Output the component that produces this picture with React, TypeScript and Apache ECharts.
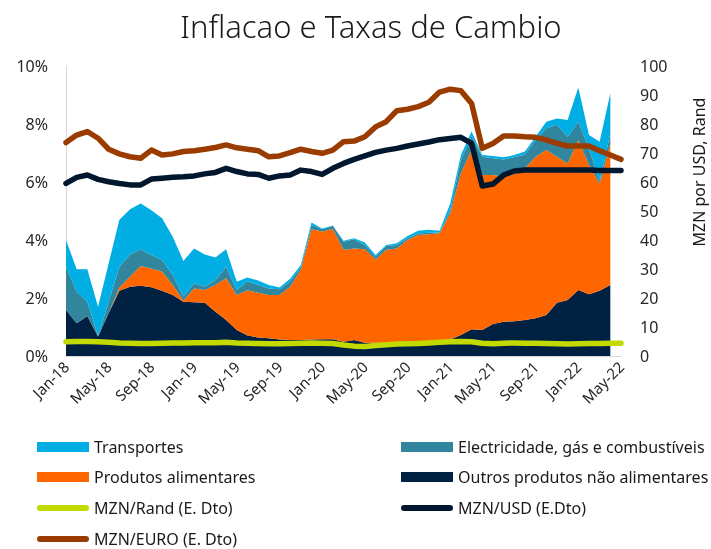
import React, { useEffect, useRef } from "react";
import * as echarts from "echarts";

const months = [
  "Jan-18","Feb-18","Mar-18","Apr-18","May-18","Jun-18","Jul-18","Aug-18","Sep-18","Oct-18","Nov-18","Dec-18",
  "Jan-19","Feb-19","Mar-19","Apr-19","May-19","Jun-19","Jul-19","Aug-19","Sep-19","Oct-19","Nov-19","Dec-19",
  "Jan-20","Feb-20","Mar-20","Apr-20","May-20","Jun-20","Jul-20","Aug-20","Sep-20","Oct-20","Nov-20","Dec-20",
  "Jan-21","Feb-21","Mar-21","Apr-21","May-21","Jun-21","Jul-21","Aug-21","Sep-21","Oct-21","Nov-21","Dec-21",
  "Jan-22","Feb-22","Mar-22","Apr-22","May-22",
];

const outros = [1.59,1.13,1.38,0.67,1.48,2.25,2.39,2.42,2.37,2.25,2.10,1.87,1.85,1.84,1.53,1.24,0.90,0.71,0.64,0.61,0.57,0.55,0.55,0.57,0.58,0.58,0.49,0.55,0.46,0.46,0.46,0.46,0.48,0.47,0.45,0.48,0.57,0.72,0.92,0.90,1.10,1.18,1.20,1.24,1.30,1.41,1.84,1.93,2.28,2.13,2.25,2.45,null];
const alimentares = [0,0,0,0,0,0.11,0.35,0.68,0.65,0.66,0.35,0.04,0.48,0.44,0.92,1.44,1.20,1.56,1.54,1.49,1.53,1.84,2.42,3.80,3.71,3.80,3.17,3.16,3.22,2.87,3.20,3.25,3.52,3.70,3.75,3.75,4.35,5.58,6.18,5.34,5.14,5.00,5.08,5.23,5.57,5.69,5.03,4.71,5.17,4.46,3.70,4.88,null];
const electricidade = [1.49,1.09,0.49,0.02,0.39,0.72,0.76,0.58,0.46,0.40,0.34,0.14,0.18,0.11,0.17,0.40,0.18,0.31,0.27,0.23,0.20,0.17,0.09,0.15,0.08,0.10,0.28,0.32,0.15,0.09,0.13,0.12,0.06,0.05,0.05,0.03,0.10,0.46,0.49,0.63,0.58,0.60,0.57,0.48,0.58,0.75,1.10,0.92,0.63,0.57,0.05,0.35,null];
const transportes = [0.92,0.77,1.12,1.01,1.33,1.62,1.56,1.58,1.55,1.44,1.32,1.23,1.20,1.11,0.78,0.60,0.28,0.13,0.15,0.12,0.06,0.10,0.08,0.08,0.03,0.02,0.03,0.03,0.08,0.06,0.04,0.06,0.08,0.10,0.10,0.06,0.24,0.17,0.15,0.06,0.08,0.07,0.08,0.10,0.11,0.23,0.22,0.58,1.18,0.46,1.39,1.38,null];

const mznEuro = [73.6,76.2,77.4,75.1,71.3,69.7,68.7,68.2,71.0,69.3,69.7,70.5,70.8,71.3,71.9,72.8,71.8,71.3,70.8,68.7,69.0,70.1,71.3,70.5,69.9,71.0,73.9,74.1,75.6,79.0,80.8,84.6,85.1,86.0,87.5,91.0,92.0,91.5,87.1,71.6,73.3,75.9,75.9,75.6,75.4,74.5,73.3,72.4,72.4,72.4,70.8,69.3,67.8];
const mznUsd = [59.5,61.6,62.4,60.9,60.1,59.5,59.0,59.0,61.0,61.3,61.6,61.8,62.1,62.8,63.3,64.7,63.6,62.8,62.6,61.3,62.1,62.4,64.1,63.6,62.6,64.7,66.4,67.8,69.0,70.2,71.0,71.6,72.4,73.1,73.8,74.6,75.0,75.4,73.3,58.6,59.3,62.4,63.8,64.1,64.1,64.1,64.1,64.1,64.1,64.1,64.0,64.0,64.0];
const mznRand = [4.9,5.0,5.0,4.9,4.7,4.5,4.4,4.3,4.3,4.4,4.5,4.5,4.6,4.6,4.6,4.7,4.5,4.4,4.3,4.2,4.2,4.3,4.4,4.5,4.4,4.3,3.8,3.4,3.3,3.6,3.9,4.1,4.2,4.3,4.5,4.7,4.9,5.0,4.9,4.4,4.2,4.4,4.5,4.4,4.4,4.3,4.2,4.1,4.2,4.3,4.3,4.4,4.4];

const C = {
  trans: "#00AEE4",
  elec: "#31869E",
  alim: "#FF6600",
  outros: "#002142",
  rand: "#C2DA00",
  usd: "#00172E",
  euro: "#9A3C00",
};

const FONT = "'Noto Sans', 'Open Sans', sans-serif";
const LINE_ICON = "path://M3,0 L49,0 A3,3 0 0 1 49,6 L3,6 A3,3 0 0 1 3,0 Z";

export default function App() {
  const ref = useRef<HTMLDivElement>(null);
  useEffect(() => {
    if (!ref.current) return;
    const chart = echarts.init(ref.current, null, { renderer: "svg" });
    const areaSeries = (name: string, data: (number | null)[], color: string) => ({
      name,
      type: "line",
      stack: "infl",
      stackStrategy: "all",
      data,
      color,
      symbol: "none",
      showSymbol: false,
      lineStyle: { width: 0 },
      areaStyle: { color, opacity: 1 },
      itemStyle: { color },
      yAxisIndex: 0,
      z: 2,
    });
    const lineSeries = (name: string, data: number[], color: string, z: number) => ({
      name,
      type: "line",
      data,
      color,
      symbol: "none",
      showSymbol: false,
      lineStyle: { width: 5.5, color, cap: "round", join: "round" },
      itemStyle: { color },
      yAxisIndex: 1,
      z,
    });
    const legendItem = (name: string, color: string, isLine: boolean, left: number, centerY: number) => ({
      orient: "horizontal",
      left,
      top: centerY - 10,
      padding: 0,
      itemWidth: 52,
      itemHeight: 10,
      symbolKeepAspect: true,
      selectedMode: false,
      textStyle: { fontFamily: FONT, fontSize: 16, color: "#1a1a1a", lineHeight: 20 },
      data: [{ name, icon: isLine ? LINE_ICON : "rect", itemStyle: { color, borderWidth: 0 } }],
    });
    chart.setOption({
      animation: false,
      textStyle: { fontFamily: FONT },
      title: {
        text: "Inflacao e Taxas de Cambio",
        left: 366,
        textAlign: "center",
        top: 5,
        textStyle: { fontFamily: FONT, fontSize: 31, fontWeight: 300, color: "#1a1a1a" },
      },
      grid: { left: 66, right: 90, top: 66, bottom: 193 },
      legend: [
        legendItem("Transportes", C.trans, false, 37, 447),
        legendItem("Produtos alimentares", C.alim, false, 37, 477),
        legendItem("MZN/Rand (E. Dto)", C.rand, true, 37, 508),
        legendItem("MZN/EURO (E. Dto)", C.euro, true, 37, 539),
        legendItem("Electricidade, gás e combustíveis", C.elec, false, 401, 447),
        legendItem("Outros produtos não alimentares", C.outros, false, 401, 477),
        legendItem("MZN/USD (E.Dto)", C.usd, true, 401, 508),
      ],
      xAxis: {
        type: "category",
        data: months,
        boundaryGap: false,
        axisLine: { lineStyle: { color: "#d9d9d9", width: 1 } },
        axisTick: { show: false },
        axisLabel: { interval: 3, rotate: 45, fontSize: 15, color: "#262626", fontFamily: FONT, margin: 8 },
        splitLine: { show: false },
      },
      yAxis: [
        {
          type: "value",
          min: 0,
          max: 10,
          interval: 2,
          axisLine: { show: true, lineStyle: { color: "#d9d9d9" } },
          axisTick: { show: false },
          splitLine: { show: false },
          axisLabel: { formatter: "{value}%", fontSize: 16, color: "#262626", fontFamily: FONT, margin: 18 },
        },
        {
          type: "value",
          min: 0,
          max: 100,
          interval: 10,
          position: "right",
          axisLine: { show: false },
          axisTick: { show: false },
          splitLine: { show: false },
          axisLabel: { fontSize: 16, color: "#262626", fontFamily: FONT, margin: 19 },
        },
      ],
      graphic: [
        {
          type: "text",
          x: 699,
          y: 172,
          rotation: Math.PI / 2,
          style: {
            text: "MZN por USD, Rand",
            fontSize: 16,
            fontFamily: FONT,
            fill: "#1a1a1a",
            textAlign: "center",
            textVerticalAlign: "middle",
          },
        },
      ],
      series: [
        areaSeries("Outros produtos não alimentares", outros, C.outros),
        areaSeries("Produtos alimentares", alimentares, C.alim),
        areaSeries("Electricidade, gás e combustíveis", electricidade, C.elec),
        areaSeries("Transportes", transportes, C.trans),
        lineSeries("MZN/Rand (E. Dto)", mznRand, C.rand, 5),
        lineSeries("MZN/USD (E.Dto)", mznUsd, C.usd, 6),
        lineSeries("MZN/EURO (E. Dto)", mznEuro, C.euro, 7),
      ],
    });
    return () => chart.dispose();
  }, []);
  return <div ref={ref} style={{ position: "fixed", left: 0, top: 0, width: 711, height: 549 }} />;
}
